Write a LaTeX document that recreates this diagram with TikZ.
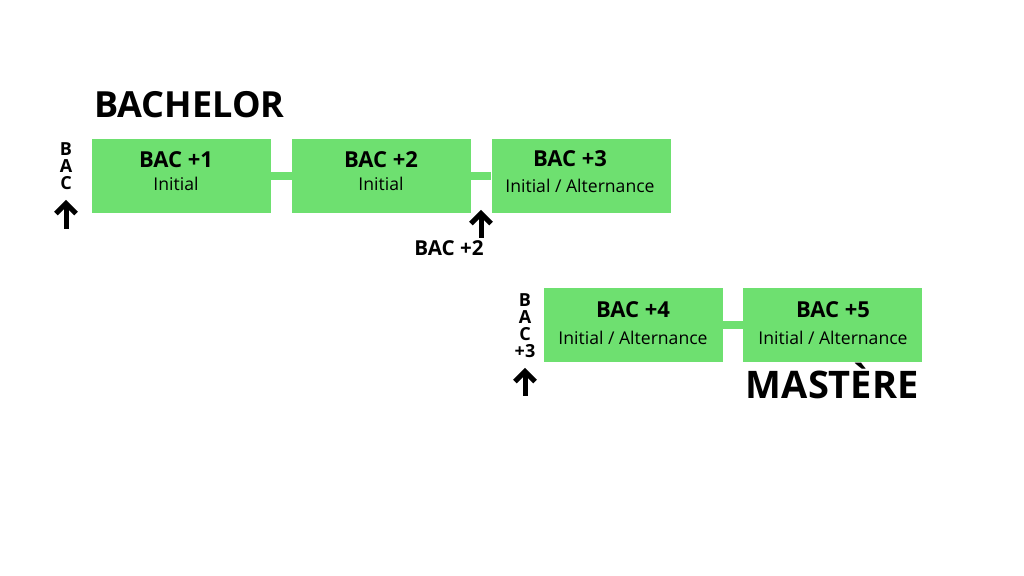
\documentclass[tikz,border=0pt]{standalone}
\usepackage{fontspec}
\setmainfont{Open Sans}
\usepackage{xcolor}
\usetikzlibrary{arrows.meta,positioning}
\definecolor{bacgreen}{RGB}{110,224,112}

\begin{document}
\begin{tikzpicture}[x=0.5pt,y=-0.5pt,
    year/.style={rectangle, fill=bacgreen, minimum width=89.5pt, minimum height=37pt, inner sep=0pt},
    link/.style={bacgreen, line width=4pt},
    yeartxt/.style={font=\fontsize{11}{12}\selectfont\bfseries, anchor=base, inner sep=0pt},
    modetxt/.style={font=\fontsize{8.8}{10}\selectfont, anchor=base, inner sep=0pt},
    diploma/.style={font=\fontsize{18}{20}\selectfont\bfseries, inner sep=0pt},
    entry/.style={font=\fontsize{9}{8.5}\selectfont\bfseries, align=center, inner sep=0pt},
    up/.style={line width=2.5pt, -{Straight Barb[length=5pt,width=10pt]}}]
    \useasboundingbox (0,0) rectangle (1024,576);

    % Bachelor: BAC +1 to BAC +3
    \node[diploma, anchor=base west] (bach) at (94,118) {BACHELOR};
    \node[year] (b1) at (181.5,176) {};
    \node[year] (b2) at (381.5,176) {};
    \node[year] (b3) at (581,176) {};
    \draw[link] (b1.east) -- (b2.west);
    \draw[link] (b2.east) -- (b3.west);

    \node[yeartxt] (y1) at (176,168) {BAC +1};
    \node[modetxt] (m1) at (176,191) {Initial};
    \node[yeartxt] (y2) at (381,168) {BAC +2};
    \node[modetxt] (m2) at (381,191) {Initial};
    \node[yeartxt] (y3) at (570,167) {BAC +3};
    \node[modetxt] (m3) at (580,193) {Initial / Alternance};

    % Entry after BAC
    \node[entry, anchor=north] (e1) at (66,142) {B\\A\\C};
    \coordinate (a1) at (66,229);
    \coordinate (a1t) at (66,200);
    \draw[up] (a1) -- (a1t);

    % Entry after BAC +2
    \node[entry, font=\fontsize{10.3}{12}\selectfont\bfseries, anchor=base] (e2) at (449,256) {BAC +2};
    \coordinate (a2) at (481,238);
    \coordinate (a2t) at (481,210);
    \draw[up] (a2) -- (a2t);

    % Mastere: BAC +4 and BAC +5
    \node[year] (b4) at (633,325) {};
    \node[year] (b5) at (832.5,325) {};
    \draw[link] (b4.east) -- (b5.west);

    \node[yeartxt] (y4) at (633,318) {BAC +4};
    \node[modetxt] (m4) at (633,345) {Initial / Alternance};
    \node[yeartxt] (y5) at (833,318) {BAC +5};
    \node[modetxt] (m5) at (833,345) {Initial / Alternance};
    \node[diploma, font=\fontsize{19}{21}\selectfont\bfseries, anchor=base east] (mast) at (919,399) {MASTÈRE};

    % Entry after BAC +3
    \node[entry, anchor=north] (e3) at (525,293) {B\\A\\C\\+3};
    \coordinate (a3) at (525,396);
    \coordinate (a3t) at (525,368);
    \draw[up] (a3) -- (a3t);
\end{tikzpicture}
\end{document}
